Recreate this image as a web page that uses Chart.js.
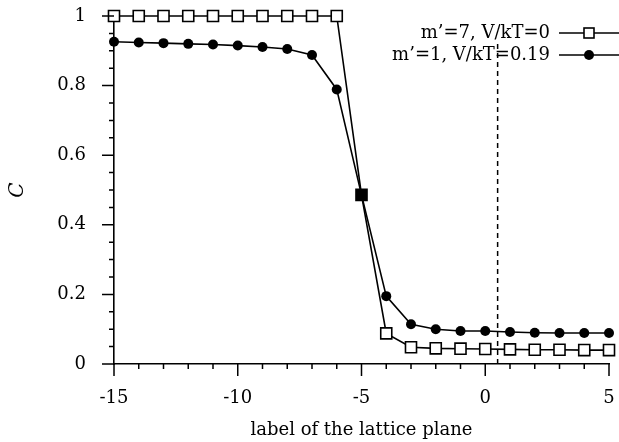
<!DOCTYPE html>
<html lang="en">
<head>
    <meta charset="UTF-8">
    <script src="https://cdn.jsdelivr.net/npm/chart.js"></script>
    <title>Concentration profile</title>
    <style>
        body {
            margin: 0;
            padding: 0;
            background-color: white;
        }

        .wrap {
            width: 619px;
            height: 442px;
        }
    </style>
</head>
<body>

    <div class="wrap">
        <canvas id="myChart" width="619" height="442"></canvas>
    </div>

    <script>
        // lattice plane labels
        const planes = [-15, -14, -13, -12, -11, -10, -9, -8, -7, -6, -5, -4, -3, -2, -1, 0, 1, 2, 3, 4, 5];
        // m'=7, V/kT=0
        const cFlat = [1, 1, 1, 1, 1, 1, 1, 1, 1, 1, 0.486, 0.088, 0.048, 0.045, 0.044, 0.043, 0.042, 0.041, 0.041, 0.040, 0.040];
        // m'=1, V/kT=0.19
        const cBiased = [0.926, 0.924, 0.922, 0.920, 0.918, 0.915, 0.911, 0.905, 0.888, 0.789, 0.486, 0.195, 0.114, 0.100, 0.095, 0.095, 0.092, 0.090, 0.089, 0.089, 0.089];
        const seriesLabels = ['m\u2019=7, V/kT=0', 'm\u2019=1, V/kT=0.19'];
        // dashed marker line
        const markerX = [0.5, 0.5];
        const markerY = [0, 0.93];
        const xTickLabels = [-15, -10, -5, 0, 5];
        const yTickLabels = [0, 0.2, 0.4, 0.6, 0.8, 1];

        const FONT = "'DejaVu Serif', serif";

        const toPoints = (xs, ys) => xs.map((x, i) => ({ x: x, y: ys[i] }));

        // fill the square where both curves meet
        const squareFill = ctx => {
            const i = ctx.dataIndex;
            if (i === undefined) return 'white';
            return Math.abs(cFlat[i] - cBiased[i]) < 0.005 ? 'black' : 'white';
        };

        // ticks (major + minor) and legend
        const decorations = {
            id: 'decorations',
            afterDraw(chart) {
                const ctx = chart.ctx;
                const xs = chart.scales.x, ys = chart.scales.y;
                const area = chart.chartArea;
                ctx.save();
                ctx.strokeStyle = 'black';
                ctx.lineWidth = 1.5;
                ctx.beginPath();
                for (let v = xs.min; v <= xs.max; v++) {
                    const px = xs.getPixelForValue(v);
                    const len = xTickLabels.includes(v) ? 12 : 5;
                    ctx.moveTo(px, area.bottom);
                    ctx.lineTo(px, area.bottom + len);
                }
                for (let k = 0; k <= 20; k++) {
                    const v = k * 0.05;
                    const py = ys.getPixelForValue(v);
                    const len = k % 4 === 0 ? 12 : 5;
                    ctx.moveTo(area.left, py);
                    ctx.lineTo(area.left - len, py);
                }
                ctx.stroke();

                // legend: text on the left, sample on the right
                ctx.font = '18px ' + FONT;
                ctx.fillStyle = 'black';
                ctx.textAlign = 'right';
                ctx.textBaseline = 'middle';
                const rows = [33, 55];
                rows.forEach((ry, i) => {
                    ctx.fillText(seriesLabels[i], 550, ry);
                    ctx.beginPath();
                    ctx.lineWidth = 1.6;
                    ctx.moveTo(559, ry);
                    ctx.lineTo(619, ry);
                    ctx.stroke();
                    if (i === 0) {
                        ctx.fillStyle = 'white';
                        ctx.fillRect(584, ry - 5, 10, 10);
                        ctx.strokeRect(584, ry - 5, 10, 10);
                        ctx.fillStyle = 'black';
                    } else {
                        ctx.beginPath();
                        ctx.arc(589, ry, 5, 0, Math.PI * 2);
                        ctx.fill();
                    }
                });
                ctx.restore();
            }
        };

        const chartConfig = {
            type: 'line',
            data: {
                datasets: [{
                    label: seriesLabels[0],
                    data: toPoints(planes, cFlat),
                    borderColor: 'black',
                    borderWidth: 1.6,
                    pointStyle: 'rect',
                    pointRadius: 7.8,
                    pointBorderWidth: 1.6,
                    pointBorderColor: 'black',
                    pointBackgroundColor: squareFill,
                    tension: 0,
                    clip: false
                }, {
                    label: seriesLabels[1],
                    data: toPoints(planes, cBiased),
                    borderColor: 'black',
                    borderWidth: 1.6,
                    pointStyle: 'circle',
                    pointRadius: 5,
                    pointBorderWidth: 0,
                    pointBackgroundColor: 'black',
                    tension: 0,
                    clip: false
                }, {
                    label: 'interface',
                    data: toPoints(markerX, markerY),
                    borderColor: 'black',
                    borderWidth: 1.5,
                    borderDash: [5, 4],
                    pointRadius: 0,
                    clip: false
                }]
            },
            options: {
                responsive: false,
                animation: false,
                layout: {
                    autoPadding: false,
                    padding: { top: 16, right: 10, bottom: 0, left: 0 }
                },
                plugins: {
                    legend: { display: false },
                    tooltip: { enabled: false }
                },
                scales: {
                    x: {
                        type: 'linear',
                        min: -15,
                        max: 5,
                        grid: { display: false },
                        border: { display: true, color: 'black', width: 1.6 },
                        afterFit(scale) {
                            scale.height = 78;
                            scale.paddingLeft = 0;
                            scale.paddingRight = 0;
                        },
                        afterBuildTicks(scale) {
                            scale.ticks = xTickLabels.map(v => ({ value: v }));
                        },
                        ticks: {
                            autoSkip: false,
                            maxRotation: 0,
                            padding: 16,
                            color: 'black',
                            font: { family: FONT, size: 18 },
                            callback: v => String(v)
                        },
                        title: {
                            display: true,
                            text: 'label of the lattice plane',
                            color: 'black',
                            font: { family: FONT, size: 18 },
                            padding: { top: 0, bottom: 1 }
                        }
                    },
                    y: {
                        min: 0,
                        max: 1,
                        grid: { display: false },
                        border: { display: true, color: 'black', width: 1.6 },
                        afterFit(scale) {
                            scale.width = 114;
                            scale.paddingTop = 0;
                            scale.paddingBottom = 0;
                        },
                        afterBuildTicks(scale) {
                            scale.ticks = yTickLabels.map(v => ({ value: v }));
                        },
                        ticks: {
                            autoSkip: false,
                            padding: 20,
                            color: 'black',
                            font: { family: FONT, size: 18 },
                            callback: v => String(Number(v.toFixed(1)))
                        },
                        title: {
                            display: true,
                            text: 'C',
                            color: 'black',
                            font: { family: FONT, size: 20, style: 'italic' },
                            padding: { top: 6, bottom: 0 }
                        }
                    }
                }
            },
            plugins: [decorations]
        };

        var myChart = new Chart(
            document.getElementById('myChart'),
            chartConfig
        );
    </script>

</body>
</html>
